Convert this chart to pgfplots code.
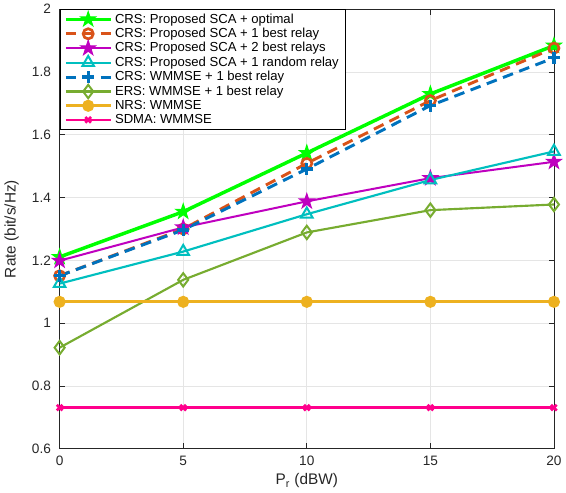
\documentclass[border=0pt]{standalone}
\usepackage{pgfplots}
\pgfplotsset{compat=1.18}
\usepackage{fontspec}
\setmainfont{Liberation Sans}
\definecolor{cgreen}{rgb}{0,1,0}
\definecolor{corange}{rgb}{0.85,0.325,0.098}
\definecolor{cpurple}{rgb}{0.75,0,0.75}
\definecolor{ccyan}{rgb}{0,0.75,0.75}
\definecolor{cblue}{rgb}{0,0.447,0.741}
\definecolor{colive}{rgb}{0.466,0.674,0.188}
\definecolor{cyellow}{rgb}{0.929,0.694,0.125}
\definecolor{cpink}{rgb}{1,0,0.55}
\definecolor{axgray}{rgb}{0.15,0.15,0.15}
\pgfdeclareplotmark{pentagram}{%
  \pgfpathmoveto{\pgfpointpolar{90}{\pgfplotmarksize}}%
  \pgfpathlineto{\pgfpointpolar{126}{0.382\pgfplotmarksize}}%
  \pgfpathlineto{\pgfpointpolar{162}{\pgfplotmarksize}}%
  \pgfpathlineto{\pgfpointpolar{198}{0.382\pgfplotmarksize}}%
  \pgfpathlineto{\pgfpointpolar{234}{\pgfplotmarksize}}%
  \pgfpathlineto{\pgfpointpolar{270}{0.382\pgfplotmarksize}}%
  \pgfpathlineto{\pgfpointpolar{306}{\pgfplotmarksize}}%
  \pgfpathlineto{\pgfpointpolar{342}{0.382\pgfplotmarksize}}%
  \pgfpathlineto{\pgfpointpolar{18}{\pgfplotmarksize}}%
  \pgfpathlineto{\pgfpointpolar{54}{0.382\pgfplotmarksize}}%
  \pgfpathclose
  \pgfusepathqfillstroke}
\begin{document}
\begin{tikzpicture}
\begin{axis}[
  width=370pt, height=329pt, scale only axis,
  xmin=0, xmax=20, ymin=0.6, ymax=2,
  xtick={0,5,10,15,20}, ytick={0.6,0.8,1,1.2,1.4,1.6,1.8,2},
  yticklabels={0.6,0.8,1,1.2,1.4,1.6,1.8,2},
  /pgf/number format/assume math mode=true,
  tick align=inside, tick pos=both,
  major tick length=4pt,
  axis line style={axgray, line width=0.6pt},
  tick style={axgray, line width=0.6pt},
  grid=major, grid style={gray!20, line width=0.5pt},
  ticklabel style={font=\fontsize{10.2}{12}\selectfont, text=axgray},
  yticklabel style={xshift=-3pt},
  xticklabel style={yshift=-2pt},
  xlabel={P\textsubscript{r} (dBW)}, ylabel={Rate (bit/s/Hz)},
  label style={font=\fontsize{11.5}{13}\selectfont, text=axgray},
  xlabel style={yshift=1pt},
  ylabel style={yshift=3pt},
  legend style={at={(0,1)}, anchor=north west, draw=black, line width=0.6pt,
    font=\fontsize{9.8}{11}\selectfont, row sep=-1.8pt, inner xsep=3pt, inner ysep=1pt,
    cells={anchor=west}},
  legend image code/.code={\draw[mark repeat=2,mark phase=2] plot coordinates {(0cm,0cm) (0.59cm,0cm) (1.18cm,0cm)};},
]
\addplot[cgreen, line width=2.6pt, mark=pentagram, mark options={solid, fill=cgreen, line width=0.8pt, draw=cgreen}, mark size=5.8pt]
  coordinates {(0,1.211) (5,1.355) (10,1.542) (15,1.730) (20,1.884)};
\addlegendentry{CRS: Proposed SCA + optimal}
\addplot[corange, line width=2.2pt, dash pattern=on 8pt off 5pt, mark=o, mark options={solid, line width=2pt}, mark size=3.8pt]
  coordinates {(0,1.151) (5,1.300) (10,1.509) (15,1.709) (20,1.876)};
\addlegendentry{CRS: Proposed SCA + 1 best relay}
\addplot[cpurple, line width=1.5pt, mark=pentagram, mark options={solid, fill=cpurple, draw=cpurple, line width=0.8pt}, mark size=5.8pt]
  coordinates {(0,1.199) (5,1.305) (10,1.388) (15,1.462) (20,1.514)};
\addlegendentry{CRS: Proposed SCA + 2 best relays}
\addplot[ccyan, line width=1.6pt, mark=triangle, mark options={solid, line width=1.5pt}, mark size=5pt]
  coordinates {(0,1.126) (5,1.228) (10,1.347) (15,1.456) (20,1.547)};
\addlegendentry{CRS: Proposed SCA + 1 random relay}
\addplot[cblue, line width=2.2pt, dash pattern=on 8pt off 5pt, mark=+, mark options={solid, line width=2.4pt}, mark size=4.5pt]
  coordinates {(0,1.151) (5,1.297) (10,1.491) (15,1.693) (20,1.845)};
\addlegendentry{CRS: WMMSE + 1 best relay}
\addplot[colive, line width=1.6pt, mark=diamond, mark options={solid, line width=1.5pt}, mark size=5pt]
  coordinates {(0,0.922) (5,1.138) (10,1.289) (15,1.360) (20,1.378)};
\addlegendentry{ERS: WMMSE + 1 best relay}
\addplot[cyellow, line width=2pt, mark=*, mark options={solid, fill=cyellow, draw=cyellow}, mark size=3.5pt]
  coordinates {(0,1.068) (5,1.068) (10,1.068) (15,1.068) (20,1.068)};
\addlegendentry{NRS: WMMSE}
\addplot[cpink, line width=2pt, mark=x, mark options={solid, line width=2pt}, mark size=3pt]
  coordinates {(0,0.731) (5,0.731) (10,0.731) (15,0.731) (20,0.731)};
\addlegendentry{SDMA: WMMSE}
\end{axis}
\end{tikzpicture}
\end{document}
